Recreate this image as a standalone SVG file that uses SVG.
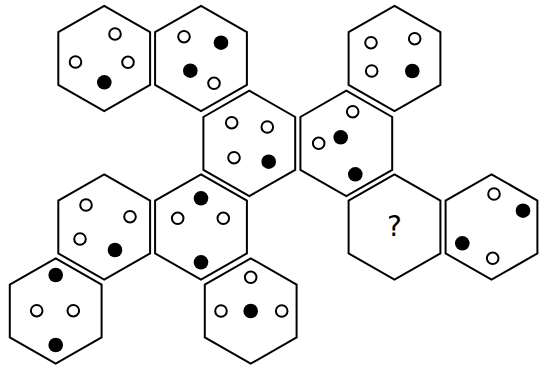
<svg xmlns="http://www.w3.org/2000/svg" width="547" height="367" viewBox="0 0 547 367">
<style>
.hex{fill:#fff;stroke:#000;stroke-width:2;stroke-linejoin:miter}
.o{fill:#fff;stroke:#000;stroke-width:2}
.f{fill:#000}
.q{font-family:"DejaVu Sans",sans-serif;font-size:28px;text-anchor:middle;fill:#000}
</style>
<defs>
<polygon id="h" points="0,-52.7 45.9,-26.4 45.9,26.4 0,52.7 -45.9,26.4 -45.9,-26.4"/>
</defs>
<rect width="547" height="367" fill="#fff"/>
<g id="hexA"><use href="#h" x="104.2" y="58.5" class="hex"/>
<circle class="o" cx="115" cy="34" r="5.8"/><circle class="o" cx="75.5" cy="62" r="5.8"/><circle class="o" cx="128" cy="62.3" r="5.8"/><circle class="f" cx="104.3" cy="82.3" r="7.3"/></g>
<g id="hexB"><use href="#h" x="201" y="58.5" class="hex"/>
<circle class="o" cx="184" cy="36.7" r="5.8"/><circle class="f" cx="221" cy="42.7" r="7.3"/><circle class="f" cx="190.3" cy="70.7" r="7.3"/><circle class="o" cx="214" cy="83.3" r="5.8"/></g>
<g id="hexE"><use href="#h" x="394.5" y="58.5" class="hex"/>
<circle class="o" cx="371" cy="42.7" r="5.8"/><circle class="o" cx="414.7" cy="38.7" r="5.8"/><circle class="o" cx="371.7" cy="71" r="5.8"/><circle class="f" cx="412.3" cy="71" r="7.3"/></g>
<g id="hexC"><use href="#h" x="249.3" y="143.4" class="hex"/>
<circle class="o" cx="231.7" cy="122.7" r="5.8"/><circle class="o" cx="267.3" cy="127" r="5.8"/><circle class="o" cx="234" cy="157.7" r="5.8"/><circle class="f" cx="268.7" cy="161.7" r="7.3"/></g>
<g id="hexD"><use href="#h" x="346.3" y="143.4" class="hex"/>
<circle class="o" cx="352.7" cy="111.7" r="5.8"/><circle class="f" cx="340.7" cy="137.3" r="7.3"/><circle class="o" cx="318.7" cy="143.3" r="5.8"/><circle class="f" cx="355.3" cy="174.3" r="7.3"/></g>
<g id="hexG"><use href="#h" x="104.2" y="227" class="hex"/>
<circle class="o" cx="86" cy="205" r="5.8"/><circle class="o" cx="130" cy="216.7" r="5.8"/><circle class="o" cx="80" cy="239" r="5.8"/><circle class="f" cx="115" cy="250" r="7.3"/></g>
<g id="hexH"><use href="#h" x="201" y="227" class="hex"/>
<circle class="f" cx="201" cy="198.3" r="7.3"/><circle class="o" cx="177.7" cy="218.3" r="5.8"/><circle class="o" cx="223.3" cy="218.3" r="5.8"/><circle class="f" cx="201" cy="262.3" r="7.3"/></g>
<g id="hexQ"><use href="#h" x="394.5" y="227" class="hex"/>
<text class="q" x="394.5" y="236">?</text></g>
<g id="hexF"><use href="#h" x="491.5" y="227" class="hex"/>
<circle class="o" cx="494" cy="194" r="5.8"/><circle class="f" cx="523" cy="210.7" r="7.3"/><circle class="f" cx="462.3" cy="243.3" r="7.3"/><circle class="o" cx="492.7" cy="258.3" r="5.8"/></g>
<g id="hexI"><use href="#h" x="55.7" y="311" class="hex"/>
<circle class="f" cx="55.7" cy="275" r="7.3"/><circle class="o" cx="36.7" cy="310.7" r="5.8"/><circle class="o" cx="73.3" cy="310.7" r="5.8"/><circle class="f" cx="55.7" cy="345" r="7.3"/></g>
<g id="hexJ"><use href="#h" x="250.7" y="311" class="hex"/>
<circle class="o" cx="250.7" cy="277.3" r="5.8"/><circle class="o" cx="221" cy="311" r="5.8"/><circle class="f" cx="250.7" cy="311" r="7.3"/><circle class="o" cx="281.7" cy="311" r="5.8"/></g>
<g id="connectors"></g>
</svg>
